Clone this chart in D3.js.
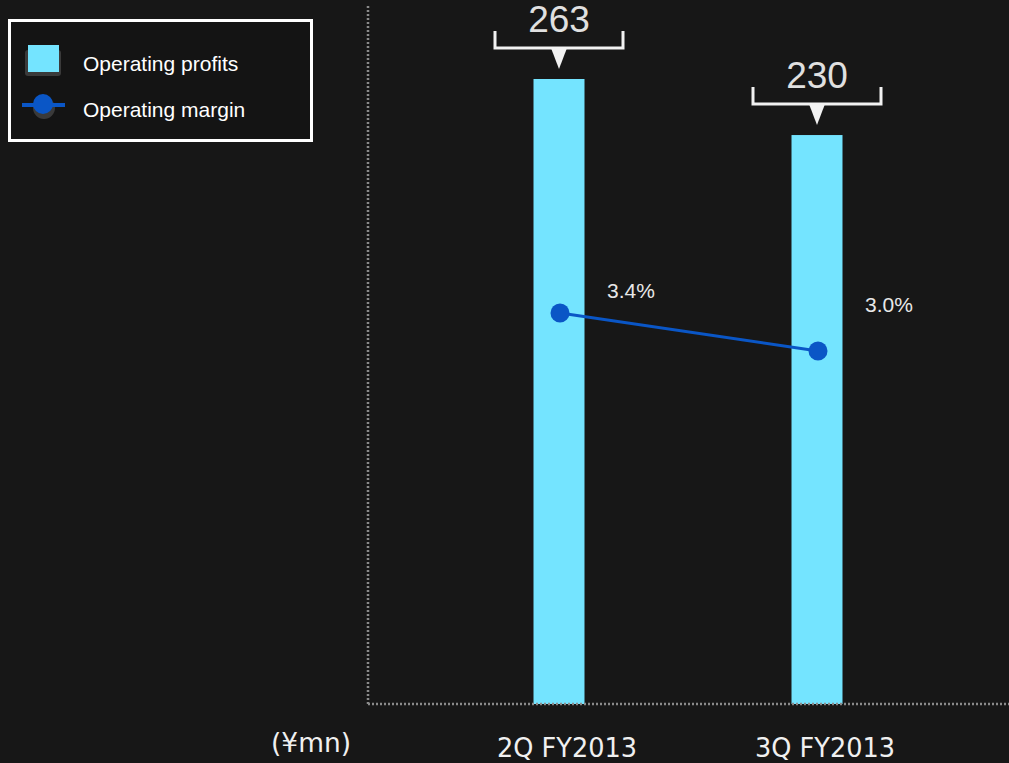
<!DOCTYPE html>
<html>
<head>
<meta charset="utf-8">
<script src="https://cdn.jsdelivr.net/npm/d3@7/dist/d3.min.js"></script>
<style>
  html, body { margin: 0; padding: 0; background: #171717; }
  svg { display: block; }
</style>
</head>
<body>
<script>
// Data
let quarters = ["2Q FY2013", "3Q FY2013"];
let profits = [263, 230];
let margins = [3.4, 3.0];
let marginLabels = ["3.4%", "3.0%"];
let unitLabel = "(¥mn)";
let legendLabels = ["Operating profits", "Operating margin"];

let w = 1009;
let h = 763;
let axisX = 368;
let baseY = 704;

let svg = d3.select("body").append("svg").attr("width", w).attr("height", h);

svg.append("rect").attr("width", w).attr("height", h).attr("fill", "#171717");

let xScale = d3.scaleBand().domain(quarters).range([431, 947]);
let barW = 51;

// the original chart's value axis does not start at zero
let yScale = d3.scaleLinear().domain([-105, 263]).range([baseY, 79]);
let y2Scale = d3.scaleLinear().domain([-0.716, 5.863]).range([baseY, 79]);

let cx = (d) => xScale(d) + xScale.bandwidth() / 2;

// bars
svg
  .selectAll("rect.bar")
  .data(profits)
  .enter()
  .append("rect")
  .attr("class", "bar")
  .attr("x", (d, i) => cx(quarters[i]) - barW / 2 - 1)
  .attr("y", (d) => yScale(d))
  .attr("width", barW)
  .attr("height", (d) => baseY - yScale(d))
  .attr("fill", "#74e4ff");

// callout brackets
profits.forEach(function (d, i) {
  let c = cx(quarters[i]) - 1;
  let top = yScale(d);
  let by = top - 31;
  svg
    .append("path")
    .attr("d", `M${c - 64},${by - 17} V${by} H${c + 64} V${by - 17}`)
    .attr("fill", "none")
    .attr("stroke", "#f2f2f2")
    .attr("stroke-width", 3);
  svg
    .append("path")
    .attr("d", `M${c - 8},${by} L${c + 8},${by} L${c},${by + 21} Z`)
    .attr("fill", "#f2f2f2");
  svg
    .append("text")
    .text(d)
    .attr("x", c)
    .attr("y", by - 16)
    .attr("text-anchor", "middle")
    .attr("font-family", "Liberation Sans, Arial, sans-serif")
    .attr("font-size", "37px")
    .attr("fill", "#e0e0e0");
});

// axes (dotted)
svg
  .append("line")
  .attr("x1", axisX)
  .attr("x2", axisX)
  .attr("y1", 6)
  .attr("y2", baseY)
  .attr("stroke", "#8a8a8a")
  .attr("stroke-width", 2.5)
  .attr("stroke-dasharray", "2,2");
svg
  .append("line")
  .attr("x1", axisX)
  .attr("x2", w)
  .attr("y1", baseY)
  .attr("y2", baseY)
  .attr("stroke", "#8a8a8a")
  .attr("stroke-width", 2.5)
  .attr("stroke-dasharray", "2,2");

// x labels
svg
  .selectAll("text.xlab")
  .data(quarters)
  .enter()
  .append("text")
  .attr("class", "xlab")
  .text((d) => d)
  .attr("x", (d) => cx(d) + 7)
  .attr("y", 757)
  .attr("text-anchor", "middle")
  .attr("font-family", "DejaVu Sans, Verdana, sans-serif")
  .attr("font-size", "27px")
  .attr("textLength", 140)
  .attr("lengthAdjust", "spacingAndGlyphs")
  .attr("fill", "#f0f0f0");

svg
  .append("text")
  .text(unitLabel)
  .attr("x", 311)
  .attr("y", 752)
  .attr("text-anchor", "middle")
  .attr("font-family", "DejaVu Sans, Verdana, sans-serif")
  .attr("font-size", "27px")
  .attr("textLength", 80)
  .attr("lengthAdjust", "spacingAndGlyphs")
  .attr("fill", "#f0f0f0");

// margin line
let line = d3
  .line()
  .x((d, i) => cx(quarters[i]))
  .y((d) => y2Scale(d));

svg
  .append("path")
  .datum(margins)
  .attr("d", line)
  .attr("fill", "none")
  .attr("stroke", "#0a56c6")
  .attr("stroke-width", 3);

svg
  .selectAll("circle.pt")
  .data(margins)
  .enter()
  .append("circle")
  .attr("class", "pt")
  .attr("cx", (d, i) => cx(quarters[i]))
  .attr("cy", (d) => y2Scale(d))
  .attr("r", 9.5)
  .attr("fill", "#0a56c6");

let labelDy = [-22, -46];
svg
  .selectAll("text.mlab")
  .data(margins)
  .enter()
  .append("text")
  .attr("class", "mlab")
  .text((d, i) => marginLabels[i])
  .attr("x", (d, i) => cx(quarters[i]) + 47)
  .attr("y", (d, i) => y2Scale(d) + labelDy[i] + 7)
  .attr("font-family", "Liberation Sans, Arial, sans-serif")
  .attr("font-size", "21px")
  .attr("fill", "#e8e8e8");

// legend
let lg = svg.append("g");
lg.append("rect")
  .attr("x", 9.5)
  .attr("y", 20.5)
  .attr("width", 302)
  .attr("height", 120)
  .attr("fill", "#141414")
  .attr("stroke", "#ffffff")
  .attr("stroke-width", 3);
lg.append("rect")
  .attr("x", 25)
  .attr("y", 50)
  .attr("width", 36)
  .attr("height", 26)
  .attr("rx", 3)
  .attr("fill", "#3a3a3a");
lg.append("rect")
  .attr("x", 28)
  .attr("y", 45)
  .attr("width", 31)
  .attr("height", 27)
  .attr("fill", "#74e4ff");
lg.append("circle")
  .attr("cx", 44)
  .attr("cy", 108)
  .attr("r", 11)
  .attr("fill", "#3a3a3a");
lg.append("line")
  .attr("x1", 22)
  .attr("x2", 65)
  .attr("y1", 105)
  .attr("y2", 105)
  .attr("stroke", "#0a56c6")
  .attr("stroke-width", 4);
lg.append("circle")
  .attr("cx", 43)
  .attr("cy", 104)
  .attr("r", 10)
  .attr("fill", "#0a56c6");
lg.selectAll("text")
  .data(legendLabels)
  .enter()
  .append("text")
  .text((d) => d)
  .attr("x", 83)
  .attr("y", (d, i) => 71 + i * 46)
  .attr("font-family", "Liberation Sans, Arial, sans-serif")
  .attr("font-size", "21px")
  .attr("fill", "#ffffff");
</script>
</body>
</html>
